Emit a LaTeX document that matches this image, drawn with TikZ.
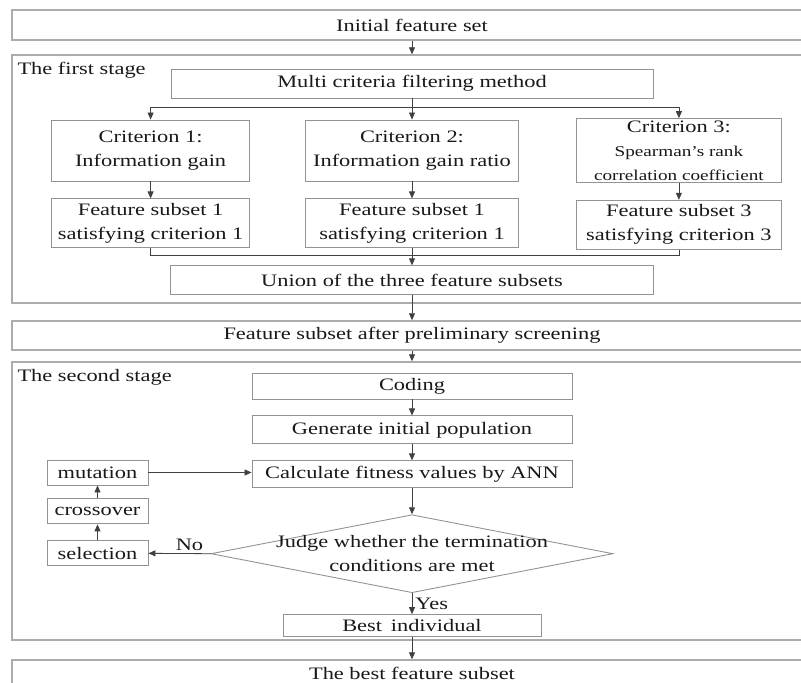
\documentclass[tikz,border=0pt]{standalone}
\usepackage{fontspec}
\setmainfont{Liberation Serif}[FakeStretch=1.28]
\usetikzlibrary{arrows.meta,positioning,shapes.geometric}

\newcommand\smallfnt{\fontsize{15}{19}\selectfont}

\begin{document}
\begin{tikzpicture}[x=1pt,y=1pt,
    block/.style={draw=gray!85,line width=0.9pt,fill=white,
                  font=\fontsize{17.5}{24}\selectfont,text=black!90,
                  align=center,inner sep=2pt},
    wide/.style={block,draw=gray!65,line width=1.4pt,
                 minimum width=800pt,minimum height=30pt},
    stagebox/.style={draw=gray!65,line width=1.4pt,minimum width=800pt},
    crit/.style={block,minimum height=61pt},
    subset/.style={block,minimum height=49pt},
    loopbox/.style={block,minimum width=101pt,minimum height=25pt},
    decision/.style={draw=gray!85,line width=0.9pt,diamond,inner sep=0pt,
                     minimum width=402pt,minimum height=78pt},
    arr/.style={-{Triangle[length=7pt,width=6pt]},line width=0.8pt,draw=black!75},
    link/.style={line width=0.8pt,draw=black!75},
    note/.style={font=\fontsize{17.5}{24}\selectfont,text=black!90,inner sep=3pt},
]
\useasboundingbox (0,0) rectangle (801,-683);

% ---- Input ---------------------------------------------------------------
\node[wide] (init) at (412,-25) {Initial feature set};

% ---- Stage 1: multi criteria filtering ------------------------------------
\node[stagebox,minimum height=248pt] (stage1) at (412,-179) {};
\node[note,anchor=north west] (stage1lbl)
    at ([xshift=3pt,yshift=-5pt]stage1.north west) {The first stage};

\node[block,minimum width=482pt,minimum height=29pt] (multi) at (412,-83.5)
    {Multi criteria filtering method};

\node[crit,minimum width=213pt] (crit2) at (412,-150.5)
    {Criterion 2:\\ Information gain ratio};
\node[crit,minimum width=198pt,left=55pt of crit2] (crit1)
    {Criterion 1:\\ Information gain};
\node[crit,minimum width=205pt,right=57pt of crit2] (crit3)
    {Criterion 3:\\ {\smallfnt Spearman’s rank}\\ {\smallfnt correlation coefficient}};

\node[subset,minimum width=198pt,below=17pt of crit1] (sub1)
    {Feature subset 1\\ satisfying criterion 1};
\node[subset,minimum width=213pt,below=17pt of crit2] (sub2)
    {Feature subset 1\\ satisfying criterion 1};
\node[subset,minimum width=205pt,below=17pt of crit3] (sub3)
    {Feature subset 3\\ satisfying criterion 3};

\node[block,minimum width=483pt,minimum height=29pt,below=17pt of sub2] (union)
    {Union of the three feature subsets};

% ---- Intermediate result ---------------------------------------------------
\node[wide,minimum height=29pt,below=25pt of union] (prelim)
    {Feature subset after preliminary screening};

% ---- Stage 2: GA wrapper ---------------------------------------------------
\node[stagebox,minimum height=278pt] (stage2) at (412,-501) {};
\node[note,anchor=north west] (stage2lbl)
    at ([xshift=3pt,yshift=-5pt]stage2.north west) {The second stage};

\node[block,minimum width=320pt,minimum height=26pt] (coding) at (412,-386) {Coding};
\node[block,minimum width=320pt,minimum height=28pt,below=16pt of coding] (genpop)
    {Generate initial population};
\node[block,minimum width=320pt,minimum height=27pt,below=16pt of genpop] (fitness)
    {Calculate fitness values by ANN};
\node[decision,below=26pt of fitness] (dec) {};
\node[note,align=center] (dectext) at (dec)
    {Judge whether the termination\\ conditions are met};
\node[block,minimum width=258pt,minimum height=22pt,below=21pt of dec] (best)
    {Best\enspace individual};

\node[loopbox] (mutation) at (97.5,-472.5) {mutation};
\node[loopbox,below=13pt of mutation] (crossover) {crossover};
\node[loopbox,below=16pt of crossover] (selection) {selection};

% ---- Output ----------------------------------------------------------------
\node[wide,minimum height=26pt] (final) at (412,-673) {The best feature subset};

% ---- Arrows ----------------------------------------------------------------
\draw[arr] (init) -- (stage1);
\draw[arr] (multi) -- (crit2);
\draw[arr] (multi.south) -- ++(0,-9) -| (crit1.north);
\draw[arr] (multi.south) -- ++(0,-9) -| (crit3.north);
\foreach \i in {1,2,3}
    \draw[arr] (crit\i) -- (sub\i);
\draw[link] (sub1.south) -- ++(0,-7) -| (sub3.south);
\draw[arr] (sub2) -- (union);
\draw[arr] (union) -- (prelim);
\draw[arr] (prelim) -- (stage2);

\draw[arr] (coding) -- (genpop);
\draw[arr] (genpop) -- (fitness);
\draw[arr] (fitness) -- (dec);
\draw[arr] (dec) -- (best) node[midway,right,note] {Yes};
\draw[arr] (best) -- (final);

\draw[arr] (dec.west) -- (selection.east) node[pos=0.34,above,note] {No};
\draw[arr] (selection) -- (crossover);
\draw[arr] (crossover) -- (mutation);
\draw[arr] (mutation) -- (mutation -| fitness.west);

\end{tikzpicture}
\end{document}
